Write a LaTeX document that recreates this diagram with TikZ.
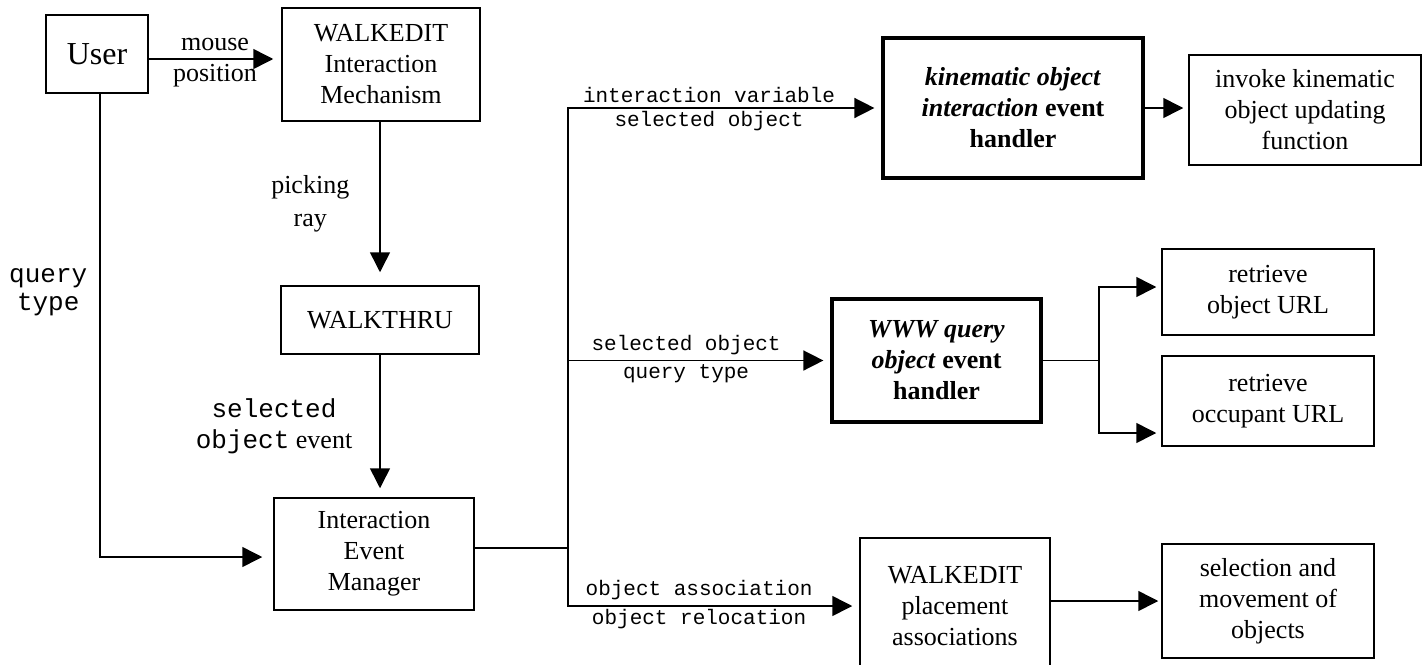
\documentclass[tikz,border=0pt]{standalone}
\usepackage{fontspec}
\setmainfont{Liberation Serif}
\setmonofont{Liberation Mono}
\usetikzlibrary{arrows.meta}

\tikzset{
  box/.style={draw, line width=0.75pt, align=center, inner sep=2pt,
    font=\fontsize{13}{15.5}\selectfont},
  boldbox/.style={box, line width=1.6pt},
  wire/.style={line width=0.75pt},
  arr/.style={wire, -{Triangle[length=10pt,width=10pt]}, shorten >=2.5pt},
  txtlbl/.style={align=center, inner sep=2.5pt, font=\fontsize{13}{15.5}\selectfont},
  codelbl/.style={inner sep=1.5pt, font=\ttfamily\fontsize{10.5}{12}\selectfont},
}

\begin{document}
\begin{tikzpicture}[x=0.5pt, y=-0.5pt]
  \useasboundingbox (0,0) rectangle (1428,664);

  % ===== Cajas =====
  \node[box, minimum width=51pt, minimum height=39pt,
        font=\fontsize{16}{18}\selectfont] (user) at (97,54) {User};
  \node[box, minimum width=99pt, minimum height=56.5pt] (wim) at (381,64.5)
        {WALKEDIT\\Interaction\\Mechanism};
  \node[box, minimum width=99pt, minimum height=34pt] (wthru) at (380,320) {WALKTHRU};
  \node[box, minimum width=100pt, minimum height=56pt] (iem) at (374,554)
        {Interaction\\Event\\Manager};

  \node[boldbox, minimum width=130pt, minimum height=70pt] (kin) at (1013,108)
        {\textbf{\textit{kinematic object}}\\\textbf{\textit{interaction} event}\\\textbf{handler}};
  \node[box, minimum width=116pt, minimum height=55pt] (invoke) at (1305,110)
        {invoke kinematic\\object updating\\function};

  \node[boldbox, minimum width=104.5pt, minimum height=61.5pt] (www) at (936.5,360.5)
        {\textbf{\textit{WWW query}}\\\textbf{\textit{object} event}\\\textbf{handler}};
  \node[box, minimum width=106pt, minimum height=43pt] (robj) at (1268,292)
        {retrieve\\object URL};
  \node[box, minimum width=106pt, minimum height=45pt] (rocc) at (1268,401)
        {retrieve\\occupant URL};

  \node[box, minimum width=95pt, minimum height=68pt] (wpa) at (955,606)
        {WALKEDIT\\placement\\associations};
  \node[box, minimum width=106pt, minimum height=57pt] (sel) at (1268,601)
        {selection and\\movement of\\objects};

  % ===== Puntos de bifurcacion =====
  \coordinate (userout) at ([yshift=-2.5pt]user.east);
  \coordinate (split) at (568,548);
  \coordinate (fork) at (1099,361);
  \coordinate (drop) at (380,0);

  % ===== Flechas de la izquierda =====
  \draw[arr, shorten >=4pt] (userout) -- (userout -| wim.west)
        node[txtlbl, midway, above=1pt] {mouse}
        node[txtlbl, midway, below=0pt] {position};
  \draw[arr, shorten >=6.5pt] (drop |- wim.south) -- (drop |- wthru.north)
        node[txtlbl, midway, left=12.5pt, font=\fontsize{13}{16.5}\selectfont] {picking\\ray};
  \draw[arr, shorten >=4.5pt] (drop |- wthru.south) -- (drop |- iem.north)
        node[txtlbl, midway, left=11pt] {\texttt{selected}\\\texttt{object} event};
  \draw[arr, shorten >=5.5pt] ([xshift=1.5pt]user.south) |- ([yshift=-1.5pt]iem.west)
        node[txtlbl, pos=.214, left=3.5pt, font=\ttfamily\fontsize{13}{14}\selectfont] {query\\type};

  % ===== Ramas del gestor de eventos =====
  \draw[wire] ([yshift=3pt]iem.east) -- (split);
  \foreach \dst/\lblup/\lbldown in {
      kin/interaction variable/selected object,
      www/selected object/query type,
      wpa/object association/object relocation}{
    \draw[arr, shorten >=3.5pt] (split) |- (\dst.west)
          node[codelbl, pos=.725, above=1pt] {\lblup}
          node[codelbl, pos=.725, below] {\lbldown};
  }

  % ===== Salidas de los manejadores =====
  \draw[arr] (kin.east) -- (kin.east -| invoke.west);
  \draw[wire] (www.east) -- (www.east -| fork);
  \draw[arr] (fork) |- ([yshift=2.5pt]robj.west);
  \draw[arr] (fork) |- ([yshift=-16pt]rocc.west);
  \draw[arr, shorten >=1.5pt] (wpa.east |- sel.west) -- (sel.west);

\end{tikzpicture}
\end{document}
